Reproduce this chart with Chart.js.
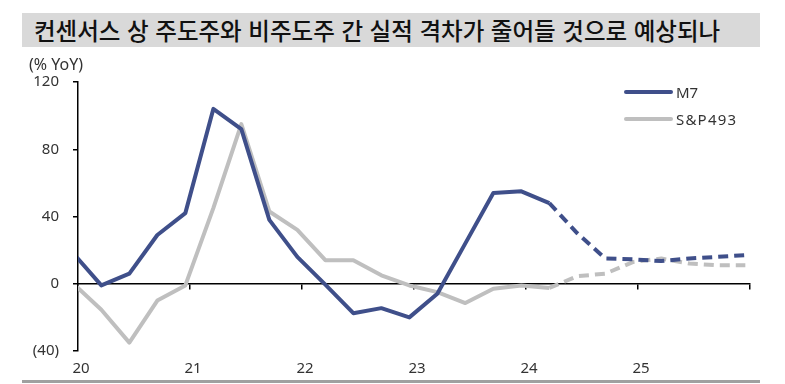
<!DOCTYPE html>
<html lang="ko">
<head>
<meta charset="utf-8">
<script src="https://cdn.jsdelivr.net/npm/chart.js@4/dist/chart.umd.min.js"></script>
<style>
  html, body { margin: 0; padding: 0; background: #fff; }
  .wrap { position: relative; width: 785px; height: 384px; overflow: hidden; }
  .wrap canvas { position: absolute; left: 0; top: 0; }
  .title {
    position: absolute; left: 22px; top: 13px; width: 738px; height: 34px;
    background: #d9d9d9; box-sizing: border-box; padding-left: 12px;
    font: 500 23.5px "Noto Sans CJK KR", sans-serif; line-height: 34px; color: #111;
    white-space: nowrap;
  }
  .unit { position: absolute; left: 29px; top: 53px; font: 16px "Noto Sans", sans-serif; color: #333; }
  .legend { position: absolute; left: 624px; top: 78px; font: 15px "Noto Sans", sans-serif; color: #333; }
  .legend div { height: 27px; display: flex; align-items: center; }
  .legend span.swatch { display: inline-block; width: 49px; height: 4px; border-radius: 2px; margin-right: 3px; }
  .rule { position: absolute; left: 22px; top: 380px; width: 738px; height: 3px; background: #a0a0a0; }
</style>
</head>
<body>
<div class="wrap">
  <canvas id="chart"></canvas>
  <div class="title">컨센서스 상 주도주와 비주도주 간 실적 격차가 줄어들 것으로 예상되나</div>
  <div class="unit">(% YoY)</div>
  <div class="legend" id="legend"></div>
  <div class="rule"></div>
</div>
<script>
// quarterly, YoY %
const quarters = [
  "2019-12", "2020-03", "2020-06", "2020-09", "2020-12",
  "2021-03", "2021-06", "2021-09", "2021-12",
  "2022-03", "2022-06", "2022-09", "2022-12",
  "2023-03", "2023-06", "2023-09", "2023-12",
  "2024-03", "2024-06", "2024-09", "2024-12",
  "2025-03", "2025-06", "2025-09", "2025-12",
];
const m7 = [18, -1, 6, 29, 42, 104, 92, 38, 16, -0.5, -17.5, -14.5, -20, -6, 24, 54, 55, 48, 30, 15, 14.5, 13.5, 15, 16, 17];
const sp493 = [0, -15.5, -35, -10, -1, 45, 95, 43, 32, 14, 14, 5, -1, -5, -11.5, -3, -1, -2.5, 4.5, 6, 13, 15, 12, 11, 11];
const forecastFrom = "2024-03"; // consensus estimates from here on
const yearLabels = ["20", "21", "22", "23", "24", "25"];
const yTicks = [-40, 0, 40, 80, 120];

const seriesNames = ["M7", "S&P493"];
const colors = ["#3f4f8a", "#bfbfbf"];

// month-centered position on a year axis
const xVals = quarters.map((q) => {
    const [y, m] = q.split("-").map(Number);
    return y + (m - 0.5) / 12;
});
const fcIdx = quarters.indexOf(forecastFrom);

function toPoints(values) {
    return values.map((v, i) => ({ x: xVals[i], y: v }));
}

function makeDataset(label, values, color) {
    return {
        label: label,
        data: toPoints(values),
        borderColor: color,
        backgroundColor: color,
        borderWidth: 4,
        pointRadius: 0,
        tension: 0,
        borderJoinStyle: "round",
        segment: {
            borderDash: (ctx) => (ctx.p0DataIndex >= fcIdx ? [10, 6] : undefined),
        },
    };
}

// legend
const legendBox = document.getElementById("legend");
seriesNames.forEach((name, i) => {
    const row = document.createElement("div");
    row.innerHTML = `<span class="swatch" style="background:${colors[i]}"></span><span${i === 1 ? ' style="letter-spacing:1.2px"' : ""}></span>`;
    row.lastChild.textContent = name;
    legendBox.appendChild(row);
});

Chart.defaults.font.family = "'Noto Sans', sans-serif";
Chart.defaults.font.size = 15;
Chart.defaults.color = "#333";

const ctx = document.getElementById("chart").getContext("2d");

new Chart(ctx, {
    type: "line",
    data: {
        datasets: [
            makeDataset(seriesNames[0], m7, colors[0]),
            makeDataset(seriesNames[1], sp493, colors[1]),
        ],
    },
    options: {
        responsive: true,
        maintainAspectRatio: false,
        animation: false,
        layout: { padding: { top: 82, right: 35, bottom: 0, left: 0 } },
        plugins: {
            legend: { display: false },
            tooltip: { enabled: false },
        },
        scales: {
            // zero line with year tick marks
            x: {
                type: "linear",
                position: { y: 0 },
                min: 2020,
                max: 2026,
                ticks: { stepSize: 1, display: false },
                grid: { drawOnChartArea: false, drawTicks: true, tickLength: 5, color: "#000", lineWidth: 1.5 },
                border: { display: true, color: "#000", width: 1.5 },
            },
            // year labels along the bottom
            xb: {
                type: "linear",
                position: "bottom",
                min: 2020,
                max: 2026,
                ticks: {
                    stepSize: 1,
                    padding: 9,
                    labelOffset: 3,
                    maxRotation: 0,
                    autoSkip: false,
                    callback: (v) => yearLabels[v - 2020] ?? "",
                },
                grid: { display: false, drawTicks: false },
                border: { display: false },
                afterFit: (scale) => { scale.height = 33; },
            },
            y: {
                min: -40,
                max: 120,
                afterBuildTicks: (scale) => { scale.ticks = yTicks.map((v) => ({ value: v })); },
                ticks: {
                    padding: 14,
                    callback: (v) => (v < 0 ? `(${-v})` : `${v}`),
                },
                grid: { drawOnChartArea: false, drawTicks: true, tickLength: 5, color: "#000", lineWidth: 1.5 },
                border: { display: true, color: "#000", width: 1.5 },
                afterFit: (scale) => { scale.width = 78; },
            },
        },
    },
});
</script>
</body>
</html>
